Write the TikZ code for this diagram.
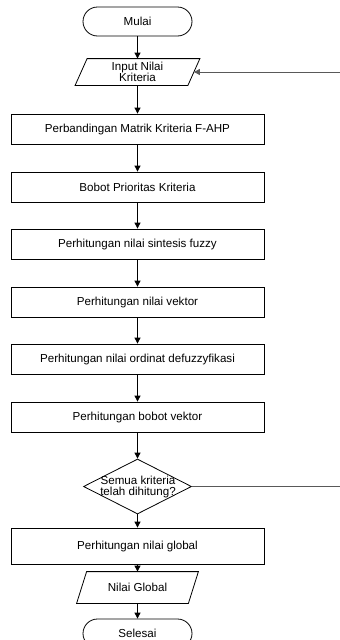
\documentclass[tikz,border=0pt]{standalone}
\usepackage{fontspec}
\setmainfont{Liberation Sans}
\usetikzlibrary{arrows.meta,shapes.geometric}
\begin{document}
\begin{tikzpicture}[x=1pt,y=1pt,
  font=\fontsize{11.6}{11}\selectfont,
  line width=0.8pt,
  term/.style={draw, rounded corners=14.5pt, minimum width=109pt, minimum height=29pt, inner sep=0pt},
  io/.style={minimum width=#1, minimum height=26pt, inner sep=0pt, align=center},
  proc/.style={draw, minimum width=253pt, minimum height=30pt, inner sep=0pt},
  dec/.style={draw, diamond, minimum width=108pt, minimum height=55pt, inner sep=0pt, align=center, aspect=2},
  arr/.style={-{Triangle[width=6pt,length=6pt]}},
  loop/.style={draw=black!65, line width=0.9pt}
]
\useasboundingbox (0,0) rectangle (340,-640);
\node[term] (mulai) at (137.5,-21.5) {Mulai};
\node[io=112pt] (input) at (137.5,-72) {Input Nilai\\Kriteria};
\draw ([xshift=-6pt]input.south west) -- ([xshift=6pt]input.north west) -- ([xshift=6pt]input.north east) -- ([xshift=-6pt]input.south east) -- cycle;
\node[proc] (b1) at (137.5,-129) {Perbandingan Matrik Kriteria F-AHP};
\node[proc] (b2) at (137.5,-187) {Bobot Prioritas Kriteria};
\node[proc] (b3) at (137.5,-244) {Perhitungan nilai sintesis fuzzy};
\node[proc] (b4) at (137.5,-302) {Perhitungan nilai vektor};
\node[proc] (b5) at (137.5,-359) {Perhitungan nilai ordinat defuzzyfikasi};
\node[proc] (b6) at (137.5,-417) {Perhitungan bobot vektor};
\node[dec] (d) at (137.5,-486.5) {};
\node[align=center, inner sep=0pt] (dtext) at (138,-487) {Semua kriteria\\telah dihitung?};
\node[proc, minimum height=36pt] (b7) at (137.5,-546) {Perhitungan nilai global};
\node[io=111pt, minimum height=31pt] (ng) at (137.5,-587.5) {Nilai Global};
\draw ([xshift=-5pt]ng.south west) -- ([xshift=5pt]ng.north west) -- ([xshift=5pt]ng.north east) -- ([xshift=-5pt]ng.south east) -- cycle;
\node[term] (selesai) at (137.5,-633.5) {Selesai};
\coordinate (r1) at (341,-72);
\coordinate (r2) at (341,-486.5);
\draw[arr] (mulai) -- (input);
\draw[arr] (input) -- (b1);
\draw[arr] (b1) -- (b2);
\draw[arr] (b2) -- (b3);
\draw[arr] (b3) -- (b4);
\draw[arr] (b4) -- (b5);
\draw[arr] (b5) -- (b6);
\draw[arr] (b6) -- (d);
\draw[arr] (d) -- (b7);
\draw[arr] (b7) -- (ng);
\draw[arr] (ng) -- (selesai);
\draw[loop] (d.east) -- (r2);
\draw[loop, -{Triangle[width=6pt,length=6pt]}] (r1) -- (input.east);
\end{tikzpicture}
\end{document}
